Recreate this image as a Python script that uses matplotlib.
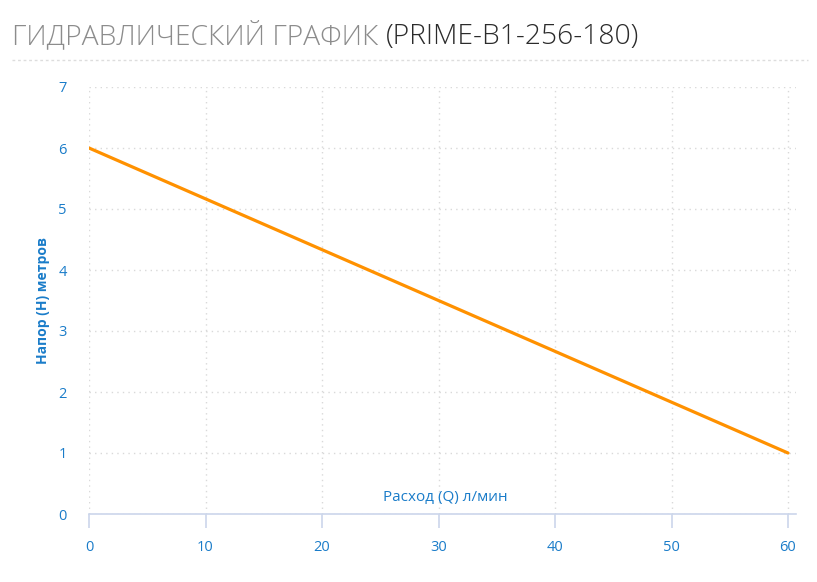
import matplotlib.pyplot as plt
from matplotlib.lines import Line2D

# data
flow = [0, 60]          # Q, л/мин
head = [6, 1]           # H, метров
x_ticks = [0, 10, 20, 30, 40, 50, 60]
y_ticks = [0, 1, 2, 3, 4, 5, 6, 7]

blue = '#1a7cc9'
plt.rcParams['font.family'] = ['Open Sans', 'DejaVu Sans']

W, H = 817, 582
fig = plt.figure(figsize=(W / 100, H / 100), dpi=100)
ax = fig.add_axes([89 / W, 1 - 514 / H, (796 - 89) / W, (514 - 87) / H])

ax.plot(flow, head, color='#ff9100', linewidth=2.3, solid_capstyle='round', zorder=3)

ax.set_xlim(0, 60 * (796 - 89) / (788 - 89))
ax.set_ylim(0, 7)
ax.set_xticks(x_ticks)
ax.set_yticks(y_ticks)
ax.grid(True, linestyle=(0, (1, 3)), color='#d9d9d9', linewidth=1)
ax.set_axisbelow(True)

for s in ['top', 'right', 'left']:
    ax.spines[s].set_visible(False)
ax.spines['bottom'].set_color('#ccd6eb')
ax.spines['bottom'].set_linewidth(1.2)
ax.tick_params(axis='x', colors='#ccd6eb', length=10, width=1.2, pad=9,
               labelcolor=blue, labelsize=10.5)
ax.tick_params(axis='y', length=0, pad=16, labelcolor=blue, labelsize=10.5)

ax.set_ylabel('Напор (H) метров', color=blue, fontsize=10, fontweight='bold')
ax.yaxis.set_label_coords((50 - 89) / (796 - 89), 0.5)
ax.text((445 - 89) / (796 - 89), (514 - 497) / (514 - 87), 'Расход (Q) л/мин',
        transform=ax.transAxes, ha='center', va='center', color=blue, fontsize=11)

# title in two colours
t1 = fig.text(12 / W, 1 - 44 / H, 'ГИДРАВЛИЧЕСКИЙ ГРАФИК ', color='#8c8c8c',
              fontsize=20.3, fontweight='light', va='baseline')
fig.canvas.draw()
bb = t1.get_window_extent(renderer=fig.canvas.get_renderer())
fig.text(bb.x1 / W, 1 - 44 / H, '(PRIME-B1-256-180)', color='#2b2b2b',
         fontsize=20.3, fontweight='light', va='baseline')

fig.add_artist(Line2D([12 / W, 808 / W], [1 - 60 / H, 1 - 60 / H], color='#dddddd',
                      linewidth=1, linestyle=(0, (2, 2)), transform=fig.transFigure))

fig.savefig('out.png', dpi=100)
